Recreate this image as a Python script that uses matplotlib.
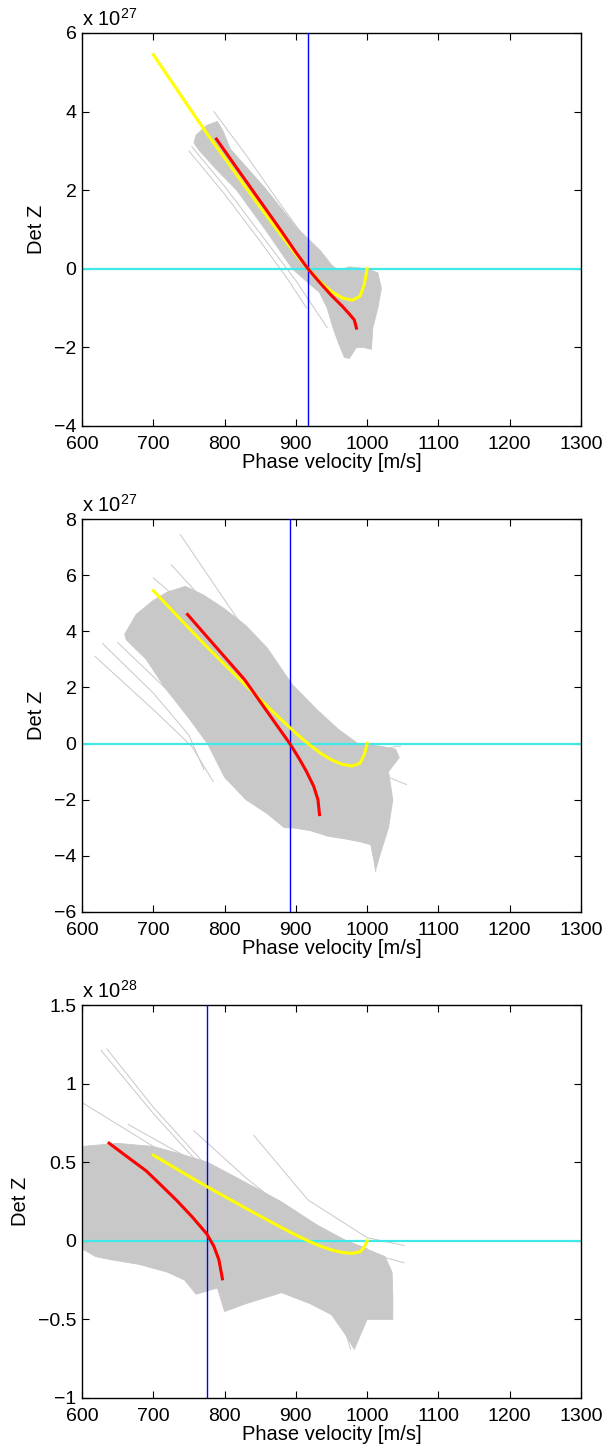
import matplotlib
matplotlib.use('Agg')
import matplotlib.pyplot as plt
from matplotlib.patches import Polygon

plt.rcParams['font.family'] = ['Liberation Sans', 'DejaVu Sans']
plt.rcParams['mathtext.default'] = 'regular'

# ---------------- data ----------------
x_ticks = [600, 700, 800, 900, 1000, 1100, 1200, 1300]
x_label = 'Phase velocity [m/s]'
y_label = 'Det Z'

# theoretical curve (yellow), Det Z in units of 1e27
yellow_x = [700, 725, 750, 775, 800, 825, 850, 875, 900, 917, 935, 950, 965, 979, 990, 996, 1000]
yellow_y = [5.45, 4.78, 4.11, 3.45, 2.82, 2.19, 1.57, 0.96, 0.37, 0.0, -0.35, -0.58, -0.74, -0.80, -0.70, -0.40, 0.0]

# ---- panel 1 (units 1e27) ----
p1_exp = 27
p1_ylim = (-4, 6)
p1_yticks = [-4, -2, 0, 2, 4, 6]
p1_vline = 917
p1_red_x = [788.6, 820, 850, 880, 900, 917, 935, 950, 965, 975, 982, 985]
p1_red_y = [3.30, 2.49, 1.72, 0.95, 0.42, 0.0, -0.38, -0.68, -0.95, -1.15, -1.30, -1.51]
# outline of the dense bundle of gray curves
p1_band = [(757, 3.2), (765, 3.0), (790, 2.5), (817, 2.0), (857, 1.0), (895, 0.0),
           (920, -0.4), (933, -0.6), (944, -1.0), (952, -1.5), (960, -1.9), (968, -2.25),
           (975, -2.28), (985, -2.0), (995, -2.0), (1006, -2.05), (1008, -1.5),
           (1015, -1.0), (1020, -0.5), (1015, -0.1), (1000, 0.0), (975, 0.05),
           (960, -0.05), (950, 0.1), (935, 0.45), (901, 1.05), (857, 2.05), (830, 2.6),
           (808, 3.05), (798, 3.5), (790, 3.75), (775, 3.65), (760, 3.4)]
p1_lines = [
    [(785, 4.0), (830, 2.9), (880, 1.6), (920, 0.6), (950, -0.1)],
    [(754, 3.11), (800, 2.1), (850, 0.9), (900, -0.3), (944, -1.5)],
    [(750, 3.0), (800, 1.9), (850, 0.7), (890, -0.3), (915, -1.0)],
    [(990, -0.2), (1000, -0.9), (1006, -2.0)],
    [(955, -1.0), (968, -1.8), (975, -2.28)],
]

# ---- panel 2 (units 1e27) ----
p2_exp = 27
p2_ylim = (-6, 8)
p2_yticks = [-6, -4, -2, 0, 2, 4, 6, 8]
p2_vline = 892
p2_red_x = [748, 770, 800, 828, 850, 870, 891.5, 905, 915, 925, 931, 933.2]
p2_red_y = [4.60, 3.96, 3.09, 2.28, 1.49, 0.77, 0.0, -0.55, -1.0, -1.52, -2.0, -2.53]
p2_band = [(676, 4.6), (700, 5.1), (720, 5.4), (745, 5.6), (770, 5.3), (800, 4.8),
           (830, 4.2), (860, 3.4), (895, 2.1), (930, 1.2), (960, 0.5), (987, 0.0),
           (1020, -0.1), (1040, -0.2), (1045, -0.5), (1030, -1.0), (1036, -2.0),
           (1030, -3.0), (1020, -3.8), (1012, -4.5), (1005, -3.6), (990, -3.5),
           (970, -3.4), (945, -3.3), (920, -3.1), (895, -3.0), (884, -3.0), (860, -2.5),
           (830, -2.0), (800, -1.2), (776, 0.0), (750, 0.9), (716, 2.0), (690, 3.0),
           (662, 3.7), (660, 3.9)]
p2_lines = [
    [(738, 7.44), (819, 4.41), (895, 1.81), (960, 0.14)],
    [(725, 6.37), (800, 4.3), (880, 2.0), (950, 0.4)],
    [(700, 5.9), (760, 4.6), (820, 3.0)],
    [(618, 3.11), (700, 1.21), (754, -0.1), (784, -1.35)],
    [(629, 3.56), (700, 1.8), (750, 0.3), (771, -0.93)],
    [(650, 3.6), (720, 1.9), (790, 0.0), (830, -1.6)],
    [(1000, -0.6), (1030, -1.2), (1055, -1.46)],
    [(1010, -0.3), (1040, -0.1), (1047, -0.09)],
    [(980, -1.5), (1005, -3.2), (1012, -4.55)],
]

# ---- panel 3 (units 1e28) ----
p3_exp = 28
p3_ylim = (-1, 1.5)
p3_yticks = [-1, -0.5, 0, 0.5, 1, 1.5]
p3_vline = 776
p3_red_x = [638, 660, 690, 710, 733, 755, 775, 785, 792, 797]
p3_red_y = [0.621, 0.546, 0.445, 0.358, 0.256, 0.150, 0.044, -0.035, -0.12, -0.242]
p3_band = [(600, 0.6), (650, 0.62), (700, 0.6), (740, 0.55), (776, 0.5), (830, 0.37),
           (879, 0.25), (930, 0.1), (971, 0.0), (1025, -0.1), (1035, -0.2), (1036, -0.35),
           (1036, -0.5), (1020, -0.5), (1000, -0.5), (982, -0.69), (970, -0.6),
           (950, -0.47), (920, -0.4), (880, -0.33), (830, -0.4), (800, -0.45),
           (790, -0.3), (760, -0.34), (744, -0.25), (720, -0.2), (680, -0.15),
           (640, -0.12), (619, -0.1), (600, -0.05)]
p3_lines = [
    [(627, 1.21), (700, 0.81), (776, 0.43), (863, 0.07)],
    [(635, 1.22), (700, 0.85), (780, 0.45), (870, 0.08)],
    [(600, 0.88), (650, 0.74), (700, 0.60)],
    [(665, 0.74), (720, 0.60), (780, 0.45)],
    [(757, 0.70), (830, 0.40), (917, 0.09), (1000, -0.05)],
    [(841, 0.67), (917, 0.26), (1000, 0.02), (1052, -0.03)],
    [(900, 0.10), (980, -0.05), (1052, -0.14)],
    [(930, -0.2), (960, -0.45), (977, -0.69)],
]

panels = [
    (p1_exp, p1_ylim, p1_yticks, p1_vline, p1_red_x, p1_red_y, p1_band, p1_lines),
    (p2_exp, p2_ylim, p2_yticks, p2_vline, p2_red_x, p2_red_y, p2_band, p2_lines),
    (p3_exp, p3_ylim, p3_yticks, p3_vline, p3_red_x, p3_red_y, p3_band, p3_lines),
]

# ---------------- drawing ----------------
W, H = 604, 1445
fig = plt.figure(figsize=(W / 100, H / 100), dpi=100)
gray = '#c8c8c8'
tops = [33, 519, 1005]
ax_h = 393
for (exp, ylim, yticks, vline, rx, ry, band, lines), top in zip(panels, tops):
    bottom = H - top - ax_h
    ax = fig.add_axes([82 / W, bottom / H, 499 / W, ax_h / H])
    scale = 10 ** (exp - 27)
    ax.add_patch(Polygon(band, closed=True, facecolor=gray, edgecolor=gray, lw=0.6,
                         joinstyle='round', zorder=1))
    for ln in lines:
        xs = [p[0] for p in ln]
        ys = [p[1] for p in ln]
        ax.plot(xs, ys, color=gray, lw=0.7, zorder=1)
    ax.axhline(0, color='#40e8e8', lw=1.6, zorder=2)
    ax.axvline(vline, color='#0000ff', lw=1.0, zorder=3)
    ax.plot(yellow_x, [v / scale for v in yellow_y], color='#ffff00', lw=2.2, zorder=4)
    ax.plot(rx, ry, color='#ff0000', lw=2.2, zorder=5)
    ax.set_xlim(600, 1300)
    ax.set_ylim(*ylim)
    ax.set_xticks(x_ticks)
    ax.set_yticks(yticks)
    ax.set_yticklabels([('%g' % t).replace('-', '\u2212') for t in yticks])
    ax.tick_params(direction='in', top=True, right=True, length=5, width=0.8,
                   labelsize=14)
    ax.tick_params(axis='x', pad=7)
    ax.tick_params(axis='y', pad=4)
    for s in ax.spines.values():
        s.set_linewidth(1.0)
    ax.set_xlabel(x_label, fontsize=14.5, labelpad=0)
    ax.set_ylabel(y_label, fontsize=14.5, labelpad=6)
    ax.text(0.0, 1.008, 'x 10$^{%d}$' % exp, transform=ax.transAxes,
            ha='left', va='bottom', fontsize=14.5)

fig.savefig('out.png', dpi=100)
